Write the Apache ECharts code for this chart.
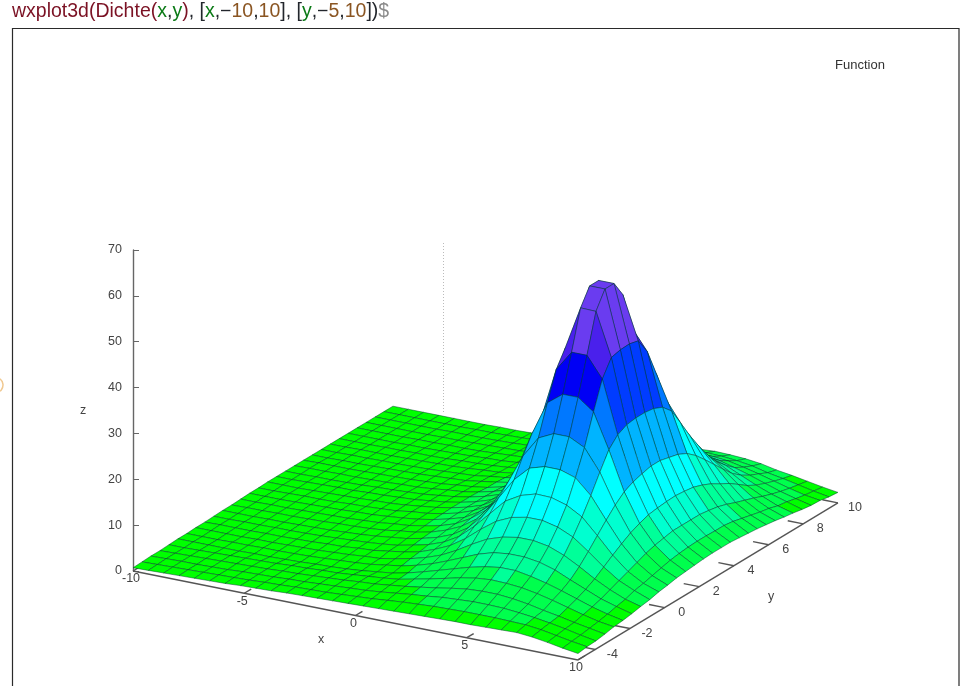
<!DOCTYPE html>
<html><head><meta charset="utf-8">
<style>html,body{margin:0;padding:0;background:#fff}#c{width:960px;height:686px}</style>
<script src="https://cdn.jsdelivr.net/npm/echarts@6/dist/echarts.min.js"></script>
</head><body><div id="c"></div>
<script>
const xGrid=[-10,-9.31,-8.62,-7.93,-7.24,-6.55,-5.86,-5.17,-4.48,-3.79,-3.1,-2.41,-1.72,-1.03,-0.34,0.34,1.03,1.72,2.41,3.1,3.79,4.48,5.17,5.86,6.55,7.24,7.93,8.62,9.31,10];
const yGrid=[-5,-4.48,-3.97,-3.45,-2.93,-2.41,-1.9,-1.38,-0.86,-0.34,0.17,0.69,1.21,1.72,2.24,2.76,3.28,3.79,4.31,4.83,5.34,5.86,6.38,6.9,7.41,7.93,8.45,8.97,9.48,10];
const zRows=[
[.7,.8,.9,1,1.1,1.2,1.3,1.5,1.6,1.7,1.9,2,2.1,2.2,2.3,2.4,2.5,2.6,2.7,2.8,2.9,3,3,3.1,3.2,3.3,3,2.5,1.9,1.4],
[.8,.9,1,1.1,1.2,1.3,1.4,1.5,1.7,1.8,2,2.1,2.2,2.4,2.6,2.8,3.1,3.4,3.6,3.8,3.9,4,4,4,3.9,3.8,3.4,2.8,2.2,1.7],
[.9,1,1.1,1.1,1.2,1.3,1.5,1.6,1.7,1.9,2,2.2,2.4,2.6,2.8,3.1,3.5,3.9,4.2,4.6,4.8,5,5,4.9,4.6,4.2,3.7,3.1,2.4,1.8],
[.9,1,1.1,1.2,1.3,1.4,1.5,1.6,1.8,1.9,2.1,2.3,2.5,2.8,3,3.4,3.8,4.3,4.8,5.4,5.9,6.1,6.1,5.8,5.3,4.6,4,3.3,2.7,2.1],
[1,1,1.1,1.2,1.3,1.4,1.5,1.6,1.8,1.9,2.1,2.2,2.5,2.8,3.1,3.5,4.2,4.9,5.7,6.5,7.1,7.4,7.3,7,6.4,5.6,4.7,3.8,3,2.5],
[1.1,1.1,1.1,1.1,1.1,1.2,1.2,1.3,1.4,1.6,1.7,1.9,2.2,2.6,3,3.7,4.6,5.6,6.6,7.6,8.4,8.9,8.9,8.3,7.5,6.5,5.4,4.3,3.4,2.7],
[1.1,1.1,1.1,1.2,1.2,1.3,1.3,1.4,1.5,1.7,1.9,2.1,2.4,2.9,3.4,4.2,5.2,6.5,7.9,9.3,10.3,10.7,10.7,10.2,9.2,7.7,6.3,4.9,3.9,3],
[1.2,1.2,1.2,1.2,1.3,1.3,1.4,1.5,1.6,1.8,2,2.3,2.5,3.1,3.8,4.7,5.9,7.6,9.6,11.4,12.5,13.1,13.1,12.5,11.2,9.4,7.4,5.7,4.3,3.4],
[1.2,1.3,1.3,1.3,1.4,1.4,1.5,1.6,1.8,1.9,2.2,2.4,2.9,3.4,4.1,5.3,6.8,9,11.7,14.1,15.6,16.3,16.3,15.5,14,11.5,8.8,6.5,5,3.7],
[1.3,1.3,1.4,1.4,1.5,1.5,1.6,1.7,1.9,2.1,2.3,2.6,3,3.7,4.5,5.7,7.6,10.5,13.9,17.3,19.2,20.2,20.1,19.1,17.2,13.8,10.2,7.3,5.4,4.2],
[1.4,1.4,1.4,1.5,1.5,1.6,1.7,1.8,2,2.2,2.5,2.9,3.3,4,4.9,6.2,8.3,11.7,16.2,20.8,24,25,25,23.9,20.7,16,11.5,8.1,5.9,4.5],
[1.4,1.5,1.5,1.6,1.6,1.7,1.8,2,2.1,2.3,2.6,3.1,3.5,4.2,5.3,6.8,9.1,12.9,18.3,24.8,29.4,31,31,29.3,24.6,18.1,12.7,8.9,6.4,4.9],
[1.5,1.5,1.6,1.6,1.7,1.8,1.9,2,2.2,2.4,2.8,3.1,3.7,4.4,5.5,7.3,9.8,13.8,20,28.5,35.9,38.4,38.4,35.9,28.3,19.8,13.6,9.5,6.9,5.1],
[1.6,1.6,1.6,1.7,1.8,1.9,2,2.2,2.3,2.6,2.9,3.3,3.9,4.7,5.7,7.6,10.2,14.5,21,30.5,42,46.4,46.4,41.9,30.4,20.8,14.3,9.9,7.2,5.3],
[1.6,1.6,1.7,1.8,1.8,1.9,2.1,2.2,2.4,2.6,3.1,3.4,4,4.8,6,7.7,10.6,14.9,21.5,31.5,45.5,54.9,54.8,45.4,31.4,21.4,14.6,10.3,7.4,5.5],
[1.7,1.7,1.7,1.8,1.9,2,2.1,2.3,2.4,2.7,3.1,3.5,4.1,4.9,6,7.9,10.6,15.1,22.1,31.8,46,58.5,58.5,45.9,31.7,21.9,14.8,10.3,7.5,5.6],
[1.7,1.7,1.8,1.9,2,2,2.2,2.3,2.5,2.7,3.1,3.5,4.1,4.9,6,7.9,10.6,15.1,22.1,31.8,46,58.5,58.5,46,31.7,21.9,14.9,10.3,7.5,5.6],
[1.7,1.7,1.8,1.8,1.9,2,2.2,2.3,2.5,2.7,3.1,3.5,4.1,4.9,6,7.8,10.7,14.9,21.6,31.6,45.6,54.9,54.9,45.5,31.4,21.4,14.7,10.3,7.4,5.6],
[1.7,1.8,1.8,1.9,1.9,2,2.1,2.3,2.4,2.7,3.1,3.4,4,4.8,5.9,7.7,10.3,14.7,21.1,30.6,42.1,46.6,46.5,42,30.5,20.9,14.4,10,7.4,5.4],
[1.7,1.8,1.8,1.8,1.9,2,2.1,2.2,2.4,2.6,3,3.3,3.8,4.6,5.7,7.4,9.9,14,20.2,28.6,36.1,38.6,38.5,36,28.5,19.9,13.7,9.6,7.1,5.2],
[1.7,1.7,1.8,1.8,1.9,2,2.1,2.2,2.4,2.6,2.8,3.3,3.8,4.4,5.5,7,9.3,13.1,18.5,25,29.6,31.2,31.2,29.5,24.8,18.3,12.8,9,6.6,5],
[1.7,1.7,1.8,1.8,1.9,1.9,2,2.1,2.3,2.5,2.7,3.2,3.6,4.3,5.1,6.5,8.6,11.9,16.4,21.1,24.2,25.2,25.2,24.1,20.9,16.2,11.6,8.2,6.1,4.7],
[1.7,1.7,1.8,1.8,1.8,1.9,2,2.1,2.2,2.4,2.7,2.9,3.4,4,4.9,6,7.9,10.8,14.2,17.6,19.5,20.4,20.4,19.4,17.4,14,10.5,7.5,5.6,4.4],
[1.7,1.7,1.7,1.8,1.8,1.9,1.9,2,2.2,2.3,2.5,2.8,3.2,3.8,4.5,5.6,7.1,9.4,12,14.4,15.9,16.6,16.6,15.8,14.2,11.8,9.1,6.8,5.2,4],
[1.7,1.7,1.7,1.7,1.8,1.8,1.9,2,2.1,2.3,2.4,2.7,3,3.5,4.2,5.1,6.3,8,10,11.7,12.9,13.5,13.4,12.8,11.6,9.7,7.7,6,4.6,3.7],
[1.7,1.7,1.7,1.7,1.8,1.8,1.9,1.9,2,2.2,2.4,2.6,2.9,3.4,3.8,4.7,5.7,6.9,8.3,9.8,10.7,11.1,11.1,10.6,9.6,8.1,6.6,5.3,4.3,3.3],
[1.7,1.7,1.7,1.7,1.7,1.8,1.8,1.9,2,2.1,2.2,2.4,2.7,3.1,3.5,4.2,5.1,6,7.1,8.1,8.8,9.3,9.3,8.8,7.9,6.9,5.8,4.7,3.8,3],
[1.7,1.7,1.7,1.7,1.7,1.8,1.8,1.8,1.9,2,2.2,2.3,2.6,2.9,3.4,3.8,4.6,5.4,6.2,7,7.6,7.8,7.8,7.5,6.8,6,5.1,4.2,3.4,2.9],
[1.7,1.7,1.7,1.7,1.7,1.7,1.8,1.8,1.9,2,2.1,2.2,2.5,2.7,3,3.6,4.1,4.8,5.4,6,6.5,6.8,6.7,6.4,5.9,5.1,4.5,3.8,3.1,2.5],
[1.7,1.7,1.7,1.7,1.7,1.7,1.7,1.8,1.8,1.9,2,2.2,2.3,2.6,2.8,3.3,3.8,4.3,4.8,5.3,5.7,5.9,5.8,5.6,5.2,4.5,4,3.4,2.8,2.3]
];
const zTicks=[0,10,20,30,40,50,60,70];
const xTicks=[-10,-5,0,5,10];
const yTicks=[-4,-2,0,2,4,6,8,10];
const bandColors=['#00ff00','#00ff4d','#00ff99','#00ffd0','#00ffff','#00b4ff','#0078ff','#003cff','#0000f5','#4a20ec','#6a3cf0'];
const bandEdges=[4,8,12,17,23,30,35,39,44,50];

// gnuplot view: how one data unit of x, y, z moves on the page
const view={xu:22.25,yu:17.33,xv:-0.97,yv:2.283};
const project=(x,y,z)=>[view.xu*(x+10)+view.yu*(y+5), z+view.xv*(x+10)+view.yv*(y+5)];
const bandOf=z=>{let k=0;while(k<bandEdges.length&&z>=bandEdges[k])k++;return k;};

const cells=[];
for(let j=yGrid.length-2;j>=0;j--)for(let i=0;i<xGrid.length-1;i++)cells.push([i,j]);

const axisParts=[
  {kind:'line',a:[-10,-5],b:[10,-5]},{kind:'line',a:[10,-5],b:[10,10]},
  ...xTicks.map(t=>({kind:'x',t})),...yTicks.map(t=>({kind:'y',t}))
];
const tickFont='12.5px "Liberation Sans", Arial, sans-serif';
const seg=(api,a,b)=>{
  const p=api.coord(project(a[0],a[1],0)),q=api.coord(project(b[0],b[1],0));
  return {type:'line',shape:{x1:p[0],y1:p[1],x2:q[0],y2:q[1]},style:{stroke:'#555',lineWidth:1.4}};
};
const lbl=(api,a,dx,dy,t)=>{
  const p=api.coord(project(a[0],a[1],0));
  return {type:'text',style:{x:p[0]+dx,y:p[1]+dy,text:String(t),font:tickFont,fill:'#444',align:'center',verticalAlign:'middle'}};
};
const rich=color=>({color,fontSize:19.5,fontWeight:'normal',fontFamily:'Liberation Sans'});
const option={
  animation:false,
  title:{left:12,top:2,padding:0,
    text:'{r|wxplot3d(Dichte(}{g|x}{k|,}{g|y}{r|)}{k|, [}{g|x}{k|,−}{n|10}{k|,}{n|10}{k|], [}{g|y}{k|,−}{n|5}{k|,}{n|10}{k|])}{s|$}',
    textStyle:{fontWeight:'normal',rich:{r:rich('#7b1224'),g:rich('#0b7a16'),k:rich('#22262c'),n:rich('#8a5522'),s:rich('#8a8a8a')}}},
  grid:{left:133,top:250,width:720,height:321},
  xAxis:{type:'value',min:0,max:720,show:false},
  yAxis:{type:'value',min:0,max:70,interval:10,position:'left',
    axisLine:{show:true,onZero:false,lineStyle:{color:'#666',width:1.4}},
    axisTick:{show:true,inside:true,length:6,lineStyle:{color:'#666'}},
    splitLine:{show:false},
    axisLabel:{color:'#444',fontSize:12.5,fontFamily:'Liberation Sans',margin:11}},
  graphic:[
    {type:'rect',z:-1,silent:true,shape:{x:12.5,y:28.5,width:946.5,height:700},style:{fill:'#fff',stroke:'#2a2a2a',lineWidth:1.2}},
    {type:'line',silent:true,shape:{x1:443.5,y1:243,x2:443.5,y2:414},style:{stroke:'#bbb',lineWidth:1,lineDash:[1,2]}},
    {type:'text',silent:true,style:{x:835,y:59,text:'Function',font:'13px "Liberation Sans", Arial, sans-serif',fill:'#333'}},
    {type:'text',silent:true,style:{x:83,y:411,text:'z',font:tickFont,fill:'#444',align:'center',verticalAlign:'middle'}},
    {type:'text',silent:true,style:{x:321,y:640,text:'x',font:tickFont,fill:'#444',align:'center',verticalAlign:'middle'}},
    {type:'text',silent:true,style:{x:771,y:597,text:'y',font:tickFont,fill:'#444',align:'center',verticalAlign:'middle'}},
    {type:'arc',silent:true,shape:{cx:-5,cy:385,r:8,startAngle:-0.9,endAngle:0.9},style:{stroke:'#f0c890',lineWidth:1.5,fill:null}}
  ],
  series:[
    {type:'custom',coordinateSystem:'cartesian2d',silent:true,z:2,clip:false,
     data:axisParts.map((_,k)=>[k]),
     renderItem(params,api){
       const part=axisParts[params.dataIndex];
       if(part.kind==='line')return seg(api,part.a,part.b);
       if(part.kind==='x')return {type:'group',children:[
         seg(api,[part.t,-5],[part.t,-4.6]),
         lbl(api,[part.t,-5],-2,8,part.t)]};
       return {type:'group',children:[
         seg(api,[10,part.t],[9.3,part.t]),
         lbl(api,[10,part.t],17,5,part.t)]};
     }},
    {type:'custom',coordinateSystem:'cartesian2d',silent:true,z:3,clip:false,
     data:cells,
     renderItem(params,api){
       const [i,j]=cells[params.dataIndex];
       const c=[[i,j],[i+1,j],[i+1,j+1],[i,j+1]];
       const zs=c.map(([a,b])=>zRows[b][a]);
       const mean=(zs[0]+zs[1]+zs[2]+zs[3])/4;
       const pts=c.map(([a,b])=>api.coord(project(xGrid[a],yGrid[b],zRows[b][a])));
       return {type:'polygon',shape:{points:pts},
         style:{fill:bandColors[bandOf(mean)],stroke:'rgba(0,60,45,0.6)',lineWidth:0.8}};
     }}
  ]
};
echarts.init(document.getElementById('c'),null,{renderer:'canvas'}).setOption(option);
</script></body></html>
